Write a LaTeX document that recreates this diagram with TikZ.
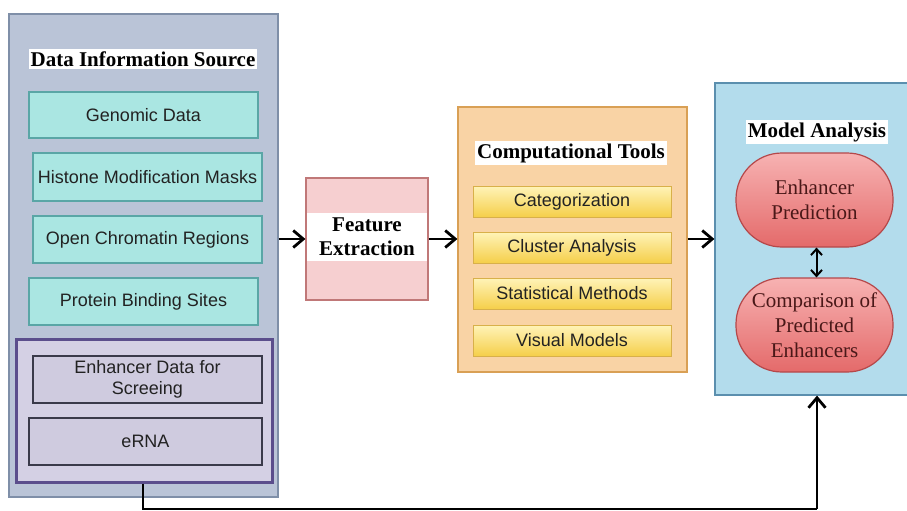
\documentclass[tikz,border=0pt]{standalone}
\usepackage{fontspec}
\setmainfont{Liberation Serif}
\setsansfont{Liberation Sans}
\usetikzlibrary{arrows.meta}
\definecolor{leftfill}{HTML}{BAC4D7}
\definecolor{leftdraw}{HTML}{7F8FA8}
\definecolor{tealfill}{HTML}{AAE6E2}
\definecolor{tealdraw}{HTML}{5AA6A6}
\definecolor{purpfill}{HTML}{D4D0E4}
\definecolor{lavfill}{HTML}{CFCBDF}
\definecolor{purpdraw}{HTML}{5B4E8C}
\definecolor{lavdraw}{HTML}{3A3A4A}
\definecolor{pinkfill}{HTML}{F6CFD0}
\definecolor{pinkdraw}{HTML}{C07878}
\definecolor{orfill}{HTML}{F9D3A5}
\definecolor{ordraw}{HTML}{D9A055}
\definecolor{yeltop}{HTML}{FFF3B8}
\definecolor{yelbot}{HTML}{F5CF4A}
\definecolor{yeldraw}{HTML}{D8B04A}
\definecolor{bluefill}{HTML}{B3DCEC}
\definecolor{bluedraw}{HTML}{5B8FAE}
\definecolor{redtop}{HTML}{F7B2B2}
\definecolor{redbot}{HTML}{E46A6A}
\definecolor{reddraw}{HTML}{B5484A}
\definecolor{redtext}{HTML}{4A1818}
\definecolor{boxtext}{HTML}{222222}
\tikzset{
  panel/.style={draw, line width=1.2pt, inner sep=0pt},
  title/.style={fill=white, inner sep=2pt, font=\fontsize{21}{23}\selectfont\bfseries, text=black},
  tealbox/.style={draw=tealdraw, fill=tealfill, line width=1.2pt, font=\sffamily\fontsize{18}{20}\selectfont, text=boxtext, inner sep=0pt},
  lavbox/.style={draw=lavdraw, fill=lavfill, line width=1.2pt, font=\sffamily\fontsize{18}{21}\selectfont, text=boxtext, inner sep=0pt, align=center},
  yelbox/.style={draw=yeldraw, top color=yeltop, bottom color=yelbot, line width=1pt, font=\sffamily\fontsize{18}{20}\selectfont, text=boxtext, inner sep=0pt, minimum width=198pt, minimum height=31pt},
  redpill/.style={draw=reddraw, top color=redtop, bottom color=redbot, line width=1.2pt, rounded corners=46pt, minimum width=157pt, minimum height=94pt, inner sep=0pt, align=center, text=redtext, font=\fontsize{21}{25}\selectfont},
  flow/.style={line width=2.6pt, -{Straight Barb[length=10pt,width=17pt,line width=2.8pt]}},
  link/.style={line width=2.6pt},
}
\begin{document}
\begin{tikzpicture}[x=1pt,y=-1pt]
\useasboundingbox (0,0) rectangle (907,511);
\clip (0,0) rectangle (907,511);
% left panel
\node[panel, draw=leftdraw, fill=leftfill, minimum width=269pt, minimum height=483pt] (src) at (143.5,255.5) {};
\node[title] (srct) at (143,59) {Data Information Source};
\node[tealbox, minimum width=229pt, minimum height=46pt] (gen) at (143.5,115) {Genomic Data};
\node[tealbox, minimum width=229pt, minimum height=48pt] (his) at (147.5,177) {Histone Modification Masks};
\node[tealbox, minimum width=229pt, minimum height=47pt] (ocr) at (147.5,239.5) {Open Chromatin Regions};
\node[tealbox, minimum width=229pt, minimum height=47pt] (pbs) at (143.5,301.5) {Protein Binding Sites};
\node[draw=purpdraw, fill=purpfill, line width=3pt, minimum width=256pt, minimum height=143pt, inner sep=0pt] (grp) at (144,410.5) {};
\node[lavbox, minimum width=229pt, minimum height=47pt] (enh) at (147.5,379.5) {Enhancer Data for\\Screeing};
\node[lavbox, minimum width=233pt, minimum height=47pt] (erna) at (145.5,441.5) {eRNA};
% feature extraction
\node[panel, draw=pinkdraw, fill=pinkfill, minimum width=122pt, minimum height=122pt] (feat) at (367,239) {};
\node[fill=white, minimum width=120pt, minimum height=48pt, inner sep=0pt, align=center, font=\fontsize{21}{24}\selectfont\bfseries] (featt) at (367,237) {Feature\\Extraction};
% computational tools
\node[panel, draw=ordraw, fill=orfill, minimum width=229pt, minimum height=265pt] (comp) at (572.5,239.5) {};
\node[title] (compt) at (571,153) {Computational Tools};
\node[yelbox] (cat) at (572,201.5) {Categorization};
\node[yelbox] (clu) at (572,247.5) {Cluster Analysis};
\node[yelbox] (sta) at (572,293.5) {Statistical Methods};
\node[yelbox] (vis) at (572,340.5) {Visual Models};
% model analysis
\node[panel, draw=bluedraw, fill=bluefill, minimum width=197pt, minimum height=312pt] (model) at (813.5,239) {};
\node[title] (modelt) at (817,132) {Model Analysis};
\node[redpill] (ep) at (814.5,200) {Enhancer\\Prediction};
\node[redpill] (cmp) at (814.5,325) {Comparison of\\Predicted\\Enhancers};
% connectors
\draw[flow] (src.east |- feat.west) -- (feat.west);
\draw[flow] (feat.east) -- (comp.west |- feat.east);
\draw[flow] (comp.east |- feat.east) -- (model.west |- feat.east);
\draw[line width=2pt, {Straight Barb[length=6pt,width=11pt,line width=2pt]}-{Straight Barb[length=6pt,width=11pt,line width=2pt]}] ([xshift=2pt]ep.south) -- ([xshift=2pt]cmp.north);
\coordinate (b1) at (143,509);
\coordinate (b2) at (817,509);
\draw[link] (grp.south -| b1) -- (b1) -- (b2);
\draw[flow] (b2) -- (b2 |- model.south);
\end{tikzpicture}
\end{document}
